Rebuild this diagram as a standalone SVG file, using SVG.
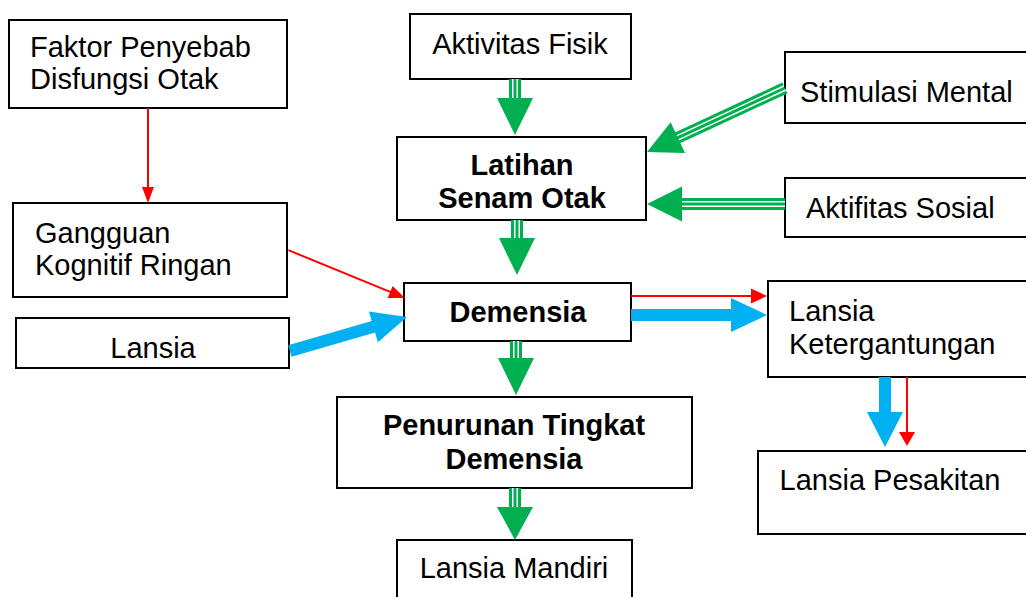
<svg xmlns="http://www.w3.org/2000/svg" width="1026" height="597" viewBox="0 0 1026 597">
<style>
.box{fill:#fff;stroke:#000;stroke-width:2}
.t{font-family:"Liberation Sans",Arial,sans-serif;font-size:29px;fill:#000}
.b{font-weight:bold}
.m{text-anchor:middle}
.gs{stroke:#00B050;stroke-width:12;fill:none}
.gw{stroke:#fff;stroke-width:1.5;fill:none}
.gh{fill:#00B050}
.blue{fill:#00B0F0}
.red{stroke:#FF0000;stroke-width:2;fill:none}
.rh{fill:#FF0000}
</style>
<rect width="1026" height="597" fill="#fff"/>
<g id="n-faktor"><rect class="box" x="9" y="20" width="278" height="88"/><text class="t" x="30" y="57">Faktor Penyebab</text><text class="t" x="30" y="89">Disfungsi Otak</text></g>
<g id="n-fisik"><rect class="box" x="410" y="14" width="221" height="65"/><text class="t m" x="520" y="54">Aktivitas Fisik</text></g>
<g id="n-stimulasi"><rect class="box" x="785" y="52" width="245" height="71"/><text class="t" x="800" y="102">Stimulasi Mental</text></g>
<g id="n-latihan"><rect class="box" x="397" y="137" width="249" height="83"/><text class="t b m" x="522" y="175">Latihan</text><text class="t b m" x="522" y="208">Senam Otak</text></g>
<g id="n-sosial"><rect class="box" x="785" y="178" width="245" height="59"/><text class="t" x="806" y="218">Aktifitas Sosial</text></g>
<g id="n-gangguan"><rect class="box" x="13" y="203" width="274" height="94"/><text class="t" x="35" y="243">Gangguan</text><text class="t" x="35" y="275">Kognitif Ringan</text></g>
<g id="n-demensia"><rect class="box" x="404" y="283" width="227" height="58"/><text class="t b m" x="518" y="322">Demensia</text></g>
<g id="n-lansia"><rect class="box" x="16" y="318" width="273" height="50"/><text class="t m" x="153" y="358">Lansia</text></g>
<g id="n-ketergantungan"><rect class="box" x="768" y="281" width="260" height="96"/><text class="t" x="789" y="321">Lansia</text><text class="t" x="789" y="354">Ketergantungan</text></g>
<g id="n-penurunan"><rect class="box" x="337" y="397" width="355" height="91"/><text class="t b m" x="514" y="435">Penurunan Tingkat</text><text class="t b m" x="514" y="469">Demensia</text></g>
<g id="n-pesakitan"><rect class="box" x="758" y="451" width="270" height="83"/><text class="t m" x="890" y="490">Lansia Pesakitan</text></g>
<g id="n-mandiri"><rect class="box" x="397" y="540" width="235" height="62"/><text class="t m" x="514" y="578">Lansia Mandiri</text></g>
<g id="connectors">
<g transform="translate(515,135) rotate(90)"><path class="gs" d="M-56 0H-36"/><path class="gw" d="M-56 -2.25H-36M-56 2.25H-36"/><path class="gh" d="M0 0L-37 -18L-37 18Z"/></g>
<g transform="translate(517,275) rotate(90)"><path class="gs" d="M-55 0H-36"/><path class="gw" d="M-55 -2.25H-36M-55 2.25H-36"/><path class="gh" d="M0 0L-37 -18L-37 18Z"/></g>
<g transform="translate(516,395) rotate(90)"><path class="gs" d="M-54 0H-36"/><path class="gw" d="M-54 -2.25H-36M-54 2.25H-36"/><path class="gh" d="M0 0L-37 -18L-37 18Z"/></g>
<g transform="translate(515,540) rotate(90)"><path class="gs" d="M-52 0H-32"/><path class="gw" d="M-52 -2.25H-32M-52 2.25H-32"/><path class="gh" d="M0 0L-33 -18L-33 18Z"/></g>
<g transform="translate(647,204) rotate(180)"><path class="gs" d="M-138 0H-34"/><path class="gw" d="M-138 -2.25H-34M-138 2.25H-34"/><path class="gh" d="M0 0L-35 -17.5L-35 17.5Z"/></g>
<g transform="translate(647,152) rotate(155.1)"><path class="gs" d="M-152 0H-33"/><path class="gw" d="M-152 -2.25H-33M-152 2.25H-33"/><path class="gh" d="M0 0L-34 -17L-34 17Z"/></g>
<g transform="translate(407,317) rotate(-16.2)"><path class="blue" d="M-122 -6H-35V-16L0 0L-35 16V6H-122Z"/></g>
<path class="blue" d="M631 309H731V298L767 315L731 332V321H631Z"/>
<path class="blue" d="M879 377H891V412H903L885 447L867 412H879Z"/>
<path class="red" d="M148 108V188"/><path class="rh" d="M148 203L142 187H154Z"/>
<g transform="translate(405,298) rotate(22.3)"><path class="red" d="M-126 0H-14"/><path class="rh" d="M0 0L-16 -6.5L-16 6.5Z"/></g>
<path class="red" d="M631 296H752"/><path class="rh" d="M767 296L751 288.5V303.5Z"/>
<path class="red" d="M907 377V433"/><path class="rh" d="M907 446L899 432H915Z"/>
</g>
</svg>
